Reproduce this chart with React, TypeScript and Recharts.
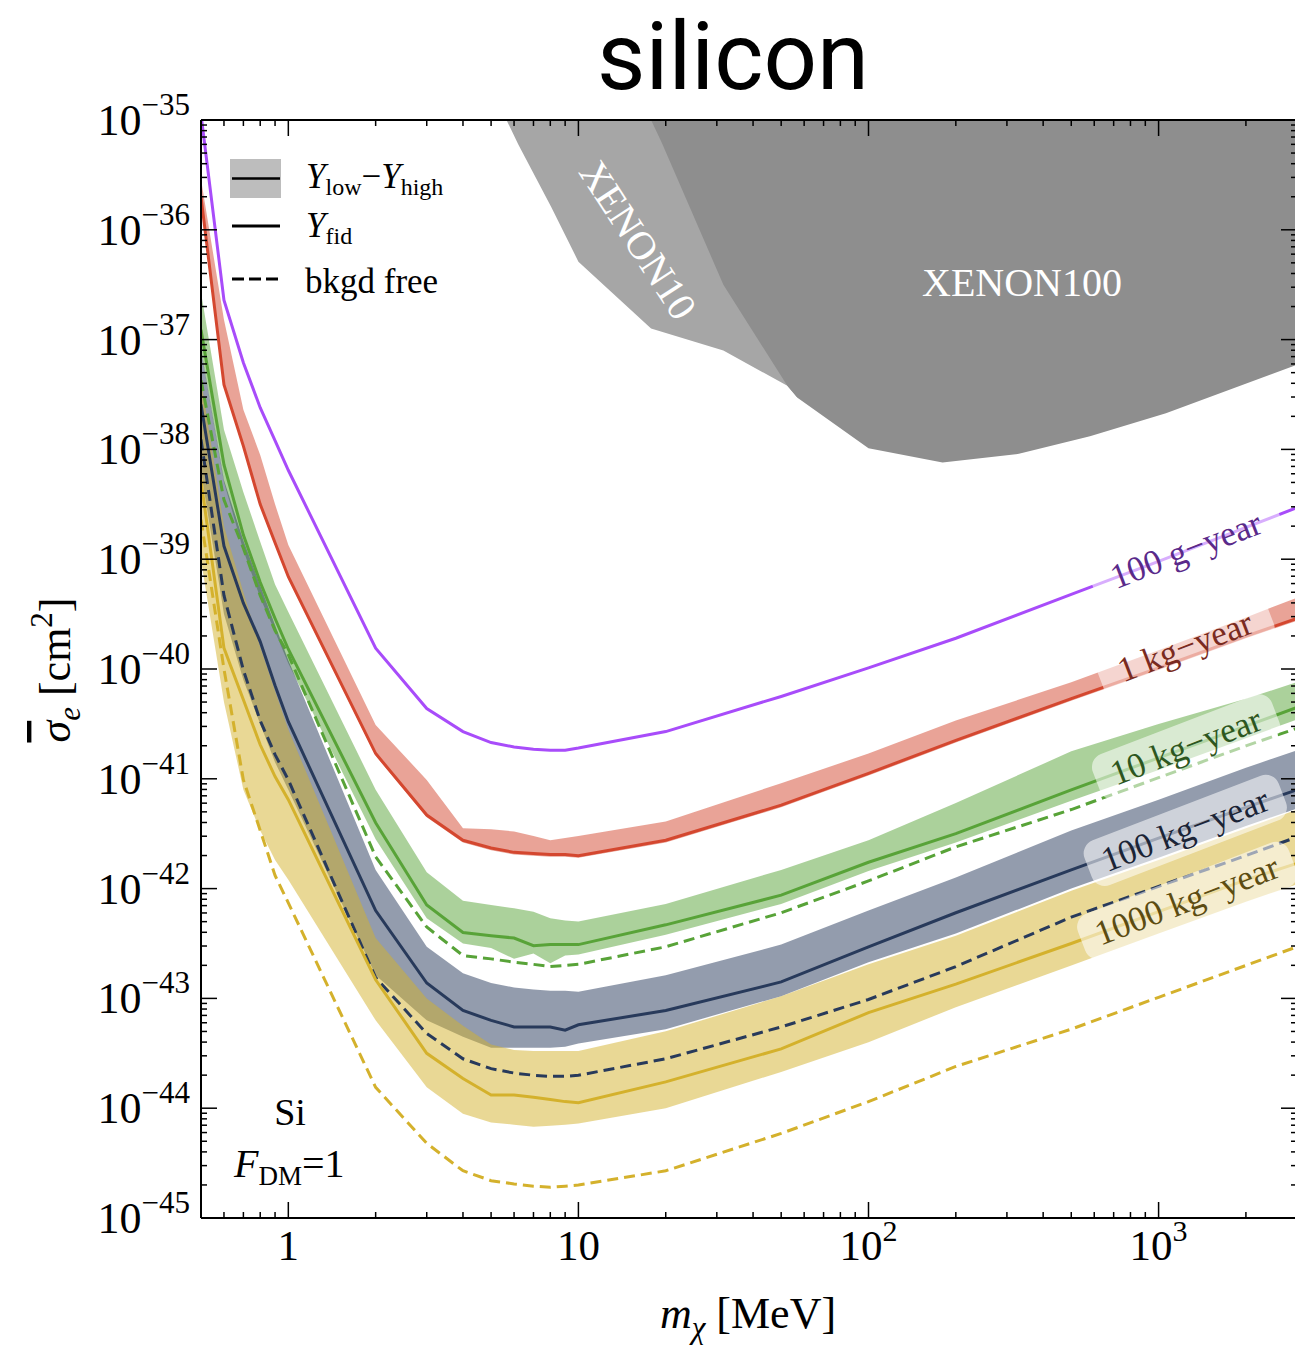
import React from "react";
import { Area, ComposedChart, Line, ReferenceDot, XAxis, YAxis } from "recharts";

const SERIF = '"Liberation Serif", "DejaVu Serif", serif';

// dark matter mass grid shared by all projection curves [MeV]
const masses = [0.5, 0.6, 0.7, 0.8, 0.9, 1, 2, 3, 4, 5, 6, 7, 8, 9, 10, 20, 50, 100, 200, 500, 1000, 2000, 3000];

// log10(sigma_e / cm^2) at each mass
const g100Fid = [-34.95, -36.64, -37.21, -37.62, -37.92, -38.19, -39.81, -40.36, -40.57, -40.67, -40.71, -40.73, -40.74, -40.74, -40.72, -40.57, -40.25, -39.99, -39.72, -39.32, -39.02, -38.71, -38.53];

const kg1Fid = [-35.7, -37.41, -37.97, -38.5, -38.85, -39.16, -40.77, -41.33, -41.56, -41.63, -41.67, -41.68, -41.69, -41.69, -41.7, -41.56, -41.24, -40.95, -40.65, -40.27, -39.99, -39.7, -39.54];
const kg1Low = [-35.72, -37.43, -37.99, -38.52, -38.87, -39.18, -40.79, -41.35, -41.58, -41.65, -41.69, -41.7, -41.71, -41.71, -41.72, -41.58, -41.26, -40.97, -40.67, -40.29, -40.01, -39.72, -39.56];
const kg1High = [-35.54, -36.82, -37.64, -38.05, -38.5, -38.87, -40.51, -41.01, -41.45, -41.46, -41.48, -41.52, -41.56, -41.54, -41.52, -41.39, -41.04, -40.77, -40.47, -40.12, -39.83, -39.53, -39.35];

const kg10Fid = [-36.91, -38.14, -38.78, -39.21, -39.54, -39.82, -41.4, -42.15, -42.4, -42.43, -42.45, -42.52, -42.51, -42.51, -42.51, -42.33, -42.06, -41.76, -41.5, -41.1, -40.81, -40.52, -40.35];
const kg10Low = [-37.1, -38.3, -38.92, -39.35, -39.66, -39.95, -41.55, -42.27, -42.5, -42.54, -42.64, -42.59, -42.68, -42.61, -42.6, -42.42, -42.14, -41.84, -41.58, -41.2, -40.92, -40.63, -40.46];
const kg10High = [-36.57, -37.82, -38.39, -38.84, -39.23, -39.48, -41.1, -41.85, -42.11, -42.15, -42.18, -42.21, -42.27, -42.29, -42.3, -42.14, -41.83, -41.56, -41.22, -40.75, -40.5, -40.27, -40.12];
const kg10Free = [-37.37, -38.46, -38.9, -39.33, -39.65, -39.87, -41.71, -42.35, -42.61, -42.64, -42.67, -42.69, -42.71, -42.7, -42.69, -42.53, -42.22, -41.93, -41.62, -41.28, -40.99, -40.7, -40.54];

const kg100Fid = [-37.59, -38.88, -39.4, -39.75, -40.15, -40.48, -42.2, -42.86, -43.11, -43.2, -43.26, -43.26, -43.26, -43.29, -43.24, -43.11, -42.85, -42.53, -42.22, -41.83, -41.54, -41.26, -41.1];
const kg100Low = [-38.2, -39.5, -40.1, -40.5, -40.85, -41.1, -42.79, -43.2, -43.35, -43.45, -43.45, -43.45, -43.45, -43.44, -43.41, -43.28, -42.98, -42.67, -42.41, -42.0, -41.72, -41.43, -41.27];
const kg100High = [-37.09, -38.28, -38.83, -39.24, -39.6, -39.92, -41.83, -42.53, -42.77, -42.86, -42.9, -42.92, -42.93, -42.93, -42.94, -42.79, -42.51, -42.2, -41.9, -41.47, -41.19, -40.9, -40.74];
const kg100Free = [-37.91, -39.33, -40.01, -40.47, -40.78, -41.01, -42.81, -43.32, -43.55, -43.64, -43.68, -43.7, -43.71, -43.71, -43.7, -43.55, -43.26, -43.01, -42.71, -42.26, -41.98, -41.7, -41.53];

const kg1000Fid = [-38.28, -39.81, -40.28, -40.69, -40.98, -41.19, -42.83, -43.5, -43.73, -43.88, -43.88, -43.9, -43.92, -43.94, -43.95, -43.76, -43.46, -43.13, -42.87, -42.5, -42.21, -41.92, -41.77];
const kg1000Low = [-39.01, -40.3, -41.1, -41.47, -41.74, -41.92, -43.2, -43.81, -44.05, -44.13, -44.15, -44.17, -44.16, -44.15, -44.14, -44.0, -43.67, -43.4, -43.08, -42.7, -42.41, -42.12, -41.96];
const kg1000High = [-37.36, -38.7, -39.3, -39.8, -40.2, -40.55, -42.45, -43.0, -43.25, -43.42, -43.47, -43.48, -43.48, -43.48, -43.48, -43.3, -42.98, -42.69, -42.43, -42.02, -41.74, -41.45, -41.28];
const kg1000Free = [-38.64, -40.0, -41.01, -41.47, -41.88, -42.13, -43.81, -44.32, -44.57, -44.66, -44.69, -44.71, -44.72, -44.71, -44.7, -44.57, -44.23, -43.94, -43.62, -43.28, -42.99, -42.7, -42.53];

// excluded regions (lower edge, the top is the frame)
const xenon10Mass = [5.65, 6.2, 8.05, 10, 17.8, 31.6, 52.5, 56.9];
const xenon10Low = [-35.0, -35.22, -35.79, -36.29, -36.9, -37.1, -37.42, -37.53];
const xenon100Mass = [17.8, 19.4, 31.6, 52.5, 56.9, 100, 180, 330, 580, 1060, 3000];
const xenon100Low = [-35.0, -35.21, -36.5, -37.42, -37.53, -37.99, -38.12, -38.04, -37.88, -37.67, -37.23];

// axis ticks
const xMajor = [1, 10, 100, 1000];
const xMinor = [0.5, 0.6, 0.7, 0.8, 0.9, 2, 3, 4, 5, 6, 7, 8, 9, 20, 30, 40, 50, 60, 70, 80, 90, 200, 300, 400, 500, 600, 700, 800, 900, 2000, 3000];
const xTickText: Record<number, [string, string]> = { 1: ["1", ""], 10: ["10", ""], 100: ["10", "2"], 1000: ["10", "3"] };
const yMajorExp = [-45, -44, -43, -42, -41, -40, -39, -38, -37, -36, -35];

const C = {
  purple: "#a84cfa",
  red: "#d4472f",
  green: "#58a338",
  navy: "#283a5b",
  gold: "#d4b12c",
  x10: "#a6a6a6",
  x100: "#8e8e8e",
};

// labels sitting on the curves, in data coordinates
const curveLabels = [
  { text: "100 g\u2212year", m: 1244, exp: -38.92, color: "#5a2a8a", w: 200 },
  { text: "1 kg\u2212year", m: 1236, exp: -39.8, color: "#7a2a20", w: 182 },
  { text: "10 kg\u2212year", m: 1244, exp: -40.71, color: "#2d5620", w: 192 },
  { text: "100 kg\u2212year", m: 1236, exp: -41.47, color: "#1b2436", w: 208 },
  { text: "1000 kg\u2212year", m: 1254, exp: -42.11, color: "#5c4c12", w: 226 },
];

const ten = (e: number) => Math.pow(10, e);

const rows = masses.map((m, i) => ({
  m,
  g100: ten(g100Fid[i]),
  kg1: ten(kg1Fid[i]),
  kg1Band: [ten(kg1Low[i]), ten(kg1High[i])],
  kg10: ten(kg10Fid[i]),
  kg10Band: [ten(kg10Low[i]), ten(kg10High[i])],
  kg10Free: ten(kg10Free[i]),
  kg100: ten(kg100Fid[i]),
  kg100Band: [ten(kg100Low[i]), ten(kg100High[i])],
  kg100Free: ten(kg100Free[i]),
  kg1000: ten(kg1000Fid[i]),
  kg1000Band: [ten(kg1000Low[i]), ten(kg1000High[i])],
  kg1000Free: ten(kg1000Free[i]),
}));

const xenon10Rows = xenon10Mass.map((m, i) => ({ m, band: [ten(xenon10Low[i]), ten(-35)] }));
const xenon100Rows = xenon100Mass.map((m, i) => ({ m, band: [ten(xenon100Low[i]), ten(-35)] }));

const xTicks = [...xMajor, ...xMinor].sort((a, b) => a - b);
const yTicks: number[] = [];
yMajorExp.forEach((e) => {
  yTicks.push(ten(e));
  if (e < -35) for (let k = 2; k <= 9; k++) yTicks.push(k * ten(e));
});

const isMajor = (v: number) => Math.abs(Math.log10(v) - Math.round(Math.log10(v))) < 1e-6;
const MAJ = 16;
const MIN = 6;

function BottomTick({ x, y, payload }: any) {
  const v = payload.value;
  const major = isMajor(v);
  const lab = major ? xTickText[Math.round(v)] : undefined;
  return (
    <g>
      <line x1={x} x2={x} y1={y} y2={y - (major ? MAJ : MIN)} stroke="#000" strokeWidth={1.5} />
      {lab && (
        <text x={x} y={y + 42} textAnchor="middle" fontFamily={SERIF} fontSize={43} fill="#000">
          {lab[0]}
          {lab[1] && (
            <tspan dy={-19} fontSize={30}>
              {lab[1]}
            </tspan>
          )}
        </text>
      )}
    </g>
  );
}

function TopTick({ x, y, payload }: any) {
  const len = isMajor(payload.value) ? MAJ : MIN;
  return <line x1={x} x2={x} y1={y} y2={y + len} stroke="#000" strokeWidth={1.5} />;
}

function LeftTick({ x, y, payload }: any) {
  const v = payload.value;
  const major = isMajor(v);
  const e = Math.round(Math.log10(v));
  return (
    <g>
      <line x1={x} x2={x + (major ? MAJ : MIN)} y1={y} y2={y} stroke="#000" strokeWidth={1.5} />
      {major && (
        <text x={x - 11} y={y + 15} textAnchor="end" fontFamily={SERIF} fontSize={44} fill="#000">
          10
          <tspan dy={-20} fontSize={31}>
            {"\u2212" + Math.abs(e)}
          </tspan>
        </text>
      )}
    </g>
  );
}

function RightTick({ x, y, payload }: any) {
  const len = isMajor(payload.value) ? MAJ : MIN;
  return <line x1={x} x2={x - len} y1={y} y2={y} stroke="#000" strokeWidth={1.5} />;
}

function CurveLabel({ cx, cy, text, color, w }: any) {
  if (cx == null || cy == null) return null;
  return (
    <g transform={`translate(${cx},${cy}) rotate(-21)`}>
      <rect x={-w / 2} y={-24} width={w} height={48} rx={14} fill="#fff" fillOpacity={0.55} />
      <text x={0} y={11} textAnchor="middle" fontFamily={SERIF} fontSize={35} fill={color}>
        {text}
      </text>
    </g>
  );
}

export default function App() {
  const axisLine = { stroke: "#000", strokeWidth: 2 };
  // axes are 1px thick so they still render; ticks are drawn inward by the tick components
  const xCommon = {
    dataKey: "m",
    type: "number" as const,
    scale: "log" as const,
    domain: [0.5, 3000],
    allowDataOverflow: true,
    ticks: xTicks,
    interval: 0 as const,
    height: 1,
    tickSize: 0,
    tickMargin: 0,
    tickLine: false,
    axisLine,
  };
  const yCommon = {
    type: "number" as const,
    scale: "log" as const,
    domain: [1e-45, 1e-35],
    allowDataOverflow: true,
    ticks: yTicks,
    interval: 0 as const,
    width: 1,
    tickSize: 0,
    tickMargin: 0,
    tickLine: false,
    axisLine,
  };

  return (
    <div style={{ position: "absolute", left: 0, top: 0, width: 1295, height: 1345, overflow: "hidden", background: "#fff" }}>
      <ComposedChart width={1300} height={1345} data={rows} margin={{ top: 119, right: 2, bottom: 126, left: 200 }}>
        <XAxis {...xCommon} tick={(p: any) => <BottomTick {...p} />} />
        <XAxis {...xCommon} xAxisId="top" orientation="top" tick={(p: any) => <TopTick {...p} />} />
        <YAxis {...yCommon} tick={(p: any) => <LeftTick {...p} />} />
        <YAxis {...yCommon} yAxisId="right" orientation="right" tick={(p: any) => <RightTick {...p} />} />

        <Area data={xenon10Rows} dataKey="band" stroke="none" fill={C.x10} fillOpacity={1} isAnimationActive={false} />
        <Area data={xenon100Rows} dataKey="band" stroke="none" fill={C.x100} fillOpacity={1} isAnimationActive={false} />

        <Area dataKey="kg1Band" stroke="none" fill={C.red} fillOpacity={0.5} isAnimationActive={false} />
        <Area dataKey="kg10Band" stroke="none" fill={C.green} fillOpacity={0.5} isAnimationActive={false} />
        <Area dataKey="kg100Band" stroke="none" fill={C.navy} fillOpacity={0.5} isAnimationActive={false} />
        <Area dataKey="kg1000Band" stroke="none" fill={C.gold} fillOpacity={0.5} isAnimationActive={false} />

        <Line dataKey="kg10Free" stroke={C.green} strokeWidth={3} strokeDasharray="11 6" dot={false} isAnimationActive={false} />
        <Line dataKey="kg100Free" stroke={C.navy} strokeWidth={3} strokeDasharray="11 6" dot={false} isAnimationActive={false} />
        <Line dataKey="kg1000Free" stroke={C.gold} strokeWidth={3} strokeDasharray="11 6" dot={false} isAnimationActive={false} />

        <Line dataKey="g100" stroke={C.purple} strokeWidth={3} dot={false} isAnimationActive={false} />
        <Line dataKey="kg1" stroke={C.red} strokeWidth={3} dot={false} isAnimationActive={false} />
        <Line dataKey="kg10" stroke={C.green} strokeWidth={3} dot={false} isAnimationActive={false} />
        <Line dataKey="kg100" stroke={C.navy} strokeWidth={3} dot={false} isAnimationActive={false} />
        <Line dataKey="kg1000" stroke={C.gold} strokeWidth={3} dot={false} isAnimationActive={false} />

        {curveLabels.map((l) => (
          <ReferenceDot
            key={l.text}
            x={l.m}
            y={ten(l.exp)}
            r={1}
            ifOverflow="visible"
            shape={(p: any) => <CurveLabel cx={p.cx} cy={p.cy} text={l.text} color={l.color} w={l.w} />}
          />
        ))}
      </ComposedChart>

      <svg width={1295} height={1345} style={{ position: "absolute", left: 0, top: 0, pointerEvents: "none" }}>
        <text x={733} y={89} textAnchor="middle" fontFamily="Roboto, Lato, sans-serif" fontSize={94} fill="#000">
          silicon
        </text>

        {/* legend */}
        <rect x={230} y={159} width={51} height={39} fill="#bdbdbd" />
        <line x1={232} x2={280} y1={178.5} y2={178.5} stroke="#000" strokeWidth={2.5} />
        <text x={306} y={188} fontFamily={SERIF} fontSize={35} fill="#000">
          <tspan fontStyle="italic">Y</tspan>
          <tspan fontSize={24} dy={7}>low</tspan>
          <tspan dy={-7}>{"\u2212"}</tspan>
          <tspan fontStyle="italic">Y</tspan>
          <tspan fontSize={24} dy={7}>high</tspan>
        </text>
        <line x1={232} x2={280} y1={226} y2={226} stroke="#000" strokeWidth={3} />
        <text x={306} y={237} fontFamily={SERIF} fontSize={35} fill="#000">
          <tspan fontStyle="italic">Y</tspan>
          <tspan fontSize={24} dy={7}>fid</tspan>
        </text>
        <line x1={232} x2={280} y1={279} y2={279} stroke="#000" strokeWidth={3} strokeDasharray="12 5" />
        <text x={305} y={293} fontFamily={SERIF} fontSize={35} fill="#000">
          bkgd free
        </text>

        {/* excluded regions */}
        <text x={1022} y={296} textAnchor="middle" fontFamily={SERIF} fontSize={40} fill="#fff">
          XENON100
        </text>
        <text
          x={0}
          y={0}
          transform="translate(638,240) rotate(57)"
          textAnchor="middle"
          dominantBaseline="central"
          fontFamily={SERIF}
          fontSize={40}
          fill="#fff"
        >
          XENON10
        </text>

        {/* target annotation */}
        <text x={290} y={1125} textAnchor="middle" fontFamily={SERIF} fontSize={38} fill="#000">
          Si
        </text>
        <text x={234} y={1177} fontFamily={SERIF} fontSize={40} fill="#000">
          <tspan fontStyle="italic">F</tspan>
          <tspan fontSize={27} dy={8}>DM</tspan>
          <tspan dy={-8}>=1</tspan>
        </text>

        {/* axis titles */}
        <text x={748} y={1328} textAnchor="middle" fontFamily={SERIF} fontSize={44} fill="#000">
          <tspan fontStyle="italic">m</tspan>
          <tspan fontStyle="italic" fontSize={31} dy={10}>
            {"\u03c7"}
          </tspan>
          <tspan dy={-10}> [MeV]</tspan>
        </text>
        <text
          x={0}
          y={0}
          transform="translate(70,670) rotate(-90)"
          textAnchor="middle"
          fontFamily={SERIF}
          fontSize={44}
          fill="#000"
        >
          <tspan fontStyle="italic" style={{ textDecoration: "overline" }}>
            {"\u03c3"}
          </tspan>
          <tspan fontStyle="italic" fontSize={31} dy={10}>
            e
          </tspan>
          <tspan dy={-10}> [cm</tspan>
          <tspan fontSize={31} dy={-18}>
            2
          </tspan>
          <tspan dy={18}>]</tspan>
        </text>
      </svg>
    </div>
  );
}
